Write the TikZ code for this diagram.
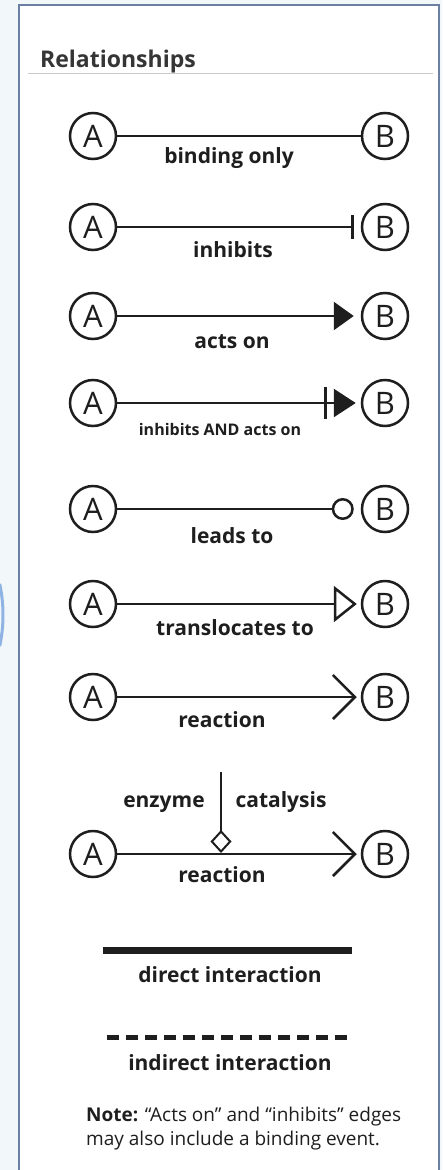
\documentclass[tikz,border=0pt]{standalone}
\usepackage{fontspec}
\setmainfont{Open Sans}
\usetikzlibrary{arrows.meta,shapes.geometric}
\definecolor{ink}{HTML}{1E1E1E}
\definecolor{frameblue}{HTML}{6B7FA3}
\definecolor{paper}{HTML}{F2F7FA}
\definecolor{rulegray}{HTML}{C9CCCF}
\definecolor{edgeblue}{HTML}{8FB3E3}
\begin{document}
\begin{tikzpicture}[x=1pt,y=-1pt,
  mol/.style={circle,draw=ink,line width=2.5pt,minimum size=46pt,inner sep=0pt,
    font=\fontsize{31}{31}\selectfont,text=ink},
  edge/.style={draw=ink,line width=2.5pt},
  lbl/.style={anchor=base,inner sep=0pt,font=\fontsize{21}{21}\selectfont\bfseries,text=ink},
  note/.style={anchor=base west,inner sep=0pt,font=\fontsize{19}{19}\selectfont,text=ink},
]
\useasboundingbox (0,0) rectangle (442,1170);
% page and panel
\fill[paper] (0,0) rectangle (442,1170);
\draw[edgeblue,line width=3pt] (-147,615) ++(-12:150) arc (-12:12:150);
\filldraw[fill=white,draw=frameblue,line width=2.5pt] (19,5) rectangle (439,1185);

% heading
\node[anchor=base west,inner sep=0pt,font=\fontsize{23}{23}\selectfont\bfseries,text=ink!90] (title) at (40,67) {Relationships};
\draw[rulegray,line width=1pt] (28,73) -- (433,73);

% binding only
\node[mol] (a1) at (93,136) {A};
\node[mol] (b1) at (385,136) {B};
\draw[edge] (a1) -- (b1);
\node[lbl] (l1) at (229,163) {binding only};

% inhibits
\node[mol] (a2) at (93,227) {A};
\node[mol] (b2) at (385,227) {B};
\draw[edge,-{Bar[width=24pt,line width=3pt]},shorten >=7pt] (a2) -- (b2);
\node[lbl] (l2) at (233,257) {inhibits};

% acts on
\node[mol] (a3) at (93,316) {A};
\node[mol] (b3) at (385,316) {B};
\draw[edge,-{Triangle[length=20pt,width=28pt]},shorten >=7pt] (a3) -- (b3);
\node[lbl] (l3) at (232,348) {acts on};

% inhibits and acts on
\node[mol] (a4) at (93,403) {A};
\node[mol] (b4) at (385,403) {B};
\draw[edge,-{Bar[width=32pt,line width=3pt,sep=7pt] Triangle[length=22pt,width=28pt]},shorten >=5pt] (a4) -- (b4);
\node[lbl,font=\fontsize{16}{16}\selectfont\bfseries] (l4) at (220,435) {inhibits AND acts on};

% leads to
\node[mol] (a5) at (93,509) {A};
\node[mol] (b5) at (385,509) {B};
\draw[edge,-{Circle[open,length=22pt,width=22pt]},shorten >=7pt] (a5) -- (b5);
\node[lbl] (l5) at (232,543) {leads to};

% translocates to
\node[mol] (a6) at (93,604) {A};
\node[mol] (b6) at (385,604) {B};
\draw[edge,-{Triangle[open,length=23pt,width=36pt]},shorten >=4pt] (a6) -- (b6);
\node[lbl] (l6) at (235,635) {translocates to};

% reaction
\node[mol] (a7) at (93,697) {A};
\node[mol] (b7) at (385,697) {B};
\draw[edge,-{Straight Barb[length=22pt,width=44pt]},shorten >=4pt] (a7) -- (b7);
\node[lbl] (l7) at (222,727) {reaction};

% catalysed reaction
\node[mol] (a8) at (93,854) {A};
\node[mol] (b8) at (385,854) {B};
\draw[edge,-{Straight Barb[length=22pt,width=44pt]},shorten >=4pt] (a8) -- (b8);
\coordinate (e0) at (221,772);
\coordinate (e1) at (221,853);
\draw[draw=ink,line width=2pt,-{Diamond[open,length=23pt,width=21pt]}] (e0) -- (e1);
\node[lbl] (enz) at (164,807) {enzyme};
\node[lbl] (cat) at (281,807) {catalysis};
\node[lbl] (l8) at (222,882) {reaction};

% interaction styles
\coordinate (d0) at (103,950);
\coordinate (d1) at (352,950);
\draw[draw=ink,line width=7pt] (d0) -- (d1);
\node[lbl] (ld) at (230,982) {direct interaction};
\coordinate (i0) at (107,1037);
\coordinate (i1) at (347,1037);
\draw[draw=ink,line width=5pt,dash pattern=on 12pt off 7pt] (i0) -- (i1);
\node[lbl] (li) at (230,1070) {indirect interaction};

% footnote
\node[note] (n1) at (86,1121) {\textbf{Note:} “Acts on” and “inhibits” edges};
\node[note] (n2) at (86,1145) {may also include a binding event.};
\end{tikzpicture}
\end{document}
